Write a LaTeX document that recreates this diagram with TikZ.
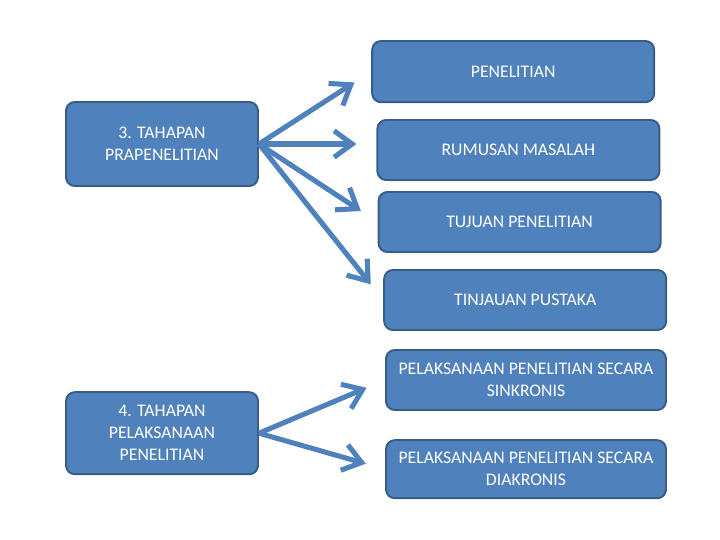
\documentclass[tikz,border=0pt]{standalone}
\usepackage{fontspec}
\setmainfont{Carlito}
\usepackage{tikz}
\usepackage{xcolor}
\usetikzlibrary{arrows.meta}

\begin{document}
\begin{tikzpicture}[
		box/.style={draw={BOX_BORDER}, line width={1.4pt}, fill={BOX_BLUE}, rounded corners={0.22cm},
			text={white}, align={center}, font={\fontsize{12.6pt}{15.6pt}\selectfont}, inner sep={0pt}},
		leftbox/.style={box, minimum width={4.8cm}, minimum height={2.1cm}},
		rightbox/.style={box, minimum width={7.05cm}, minimum height={1.5cm}},
		link/.style={draw={BOX_BLUE}, line width={3.6pt}, shorten >={0.5cm},
			-{Straight Barb[length={0.45cm}, width={0.66cm}]}}
	]
				\definecolor{BOX_BLUE}{RGB}{79, 129, 189}
				\definecolor{BOX_BORDER}{RGB}{56, 93, 138}
				\useasboundingbox (0.00cm, 0.00cm) rectangle (18.00cm, -13.50cm);

				% left column
				\node[leftbox] (prapen) at (4.05cm, -3.60cm) {3. TAHAPAN\\PRAPENELITIAN};
				\node[leftbox, minimum height={2.05cm}] (pelaksanaan) at (4.05cm, -10.83cm) {4. TAHAPAN\\PELAKSANAAN\\PENELITIAN};

				% right column
				\node[rightbox, minimum height={1.53cm}] (penelitian) at (12.83cm, -1.79cm) {PENELITIAN};
				\node[rightbox] (rumusan) at (12.96cm, -3.75cm) {RUMUSAN MASALAH};
				\node[rightbox] (tujuan) at (12.99cm, -5.55cm) {TUJUAN PENELITIAN};
				\node[rightbox] (tinjauan) at (13.13cm, -7.50cm) {TINJAUAN PUSTAKA};
				\node[rightbox, minimum width={7.00cm}] (sinkronis) at (13.15cm, -9.50cm) {PELAKSANAAN PENELITIAN SECARA\\SINKRONIS};
				\node[rightbox, minimum width={7.00cm}, minimum height={1.45cm}] (diakronis) at (13.15cm, -11.73cm) {PELAKSANAAN PENELITIAN SECARA\\DIAKRONIS};

				% arrows
				\draw[link] (prapen.east) -- (penelitian.west);
				\draw[link] (prapen.east) -- (prapen.east -| rumusan.west);
				\draw[link] (prapen.east) -- (tujuan.west);
				\draw[link] (prapen.east) -- (tinjauan.west);
				\draw[link] (pelaksanaan.east) -- (sinkronis.west);
				\draw[link] (pelaksanaan.east) -- (diakronis.west);
			\end{tikzpicture}
\end{document}
